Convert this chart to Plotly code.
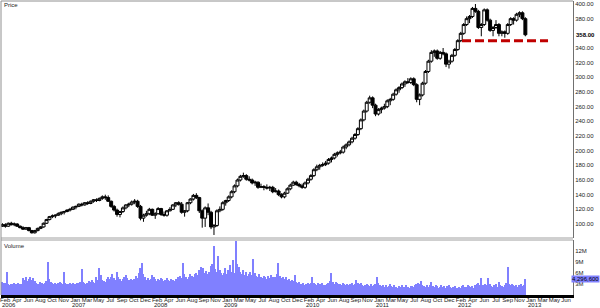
import pandas as pd
import plotly.graph_objects as go

# ---------------- price data (two-week candles) ----------------
opens = [
97,99,97,101,99,100,97,95,93,95,
91,88,91,94,96,101,106,110,111,112,
114,116,117,119,120,123,124,127,126,129,
128,131,133,132,135,137,136,131,124,119,
113,117,122,126,127,130,131,124,108,112,
114,120,112,114,121,113,112,118,120,126,
129,127,116,118,129,134,139,136,118,108,
122,116,96,98,118,120,129,132,137,144,
152,160,165,166,161,160,156,157,150,151,
150,149,150,144,145,140,137,142,148,153,
157,154,152,150,156,161,166,174,178,180,
181,183,188,190,195,197,198,205,208,212,
217,222,230,242,254,266,272,262,250,256,
258,260,268,270,277,283,286,291,294,293,
298,290,270,276,292,308,322,334,336,326,
334,332,318,322,330,338,350,360,372,380,
383,394,390,368,372,392,378,364,368,372,
360,362,360,372,380,378,386,388,380]
highs = [
101,101,102,103,102,101,98,97,96,96,
92,92,95,97,102,107,111,113,113,116,
117,118,120,122,124,125,128,129,130,131,
132,134,135,136,139,140,139,132,126,121,
118,124,127,129,132,134,133,126,114,118,
122,121,116,123,122,117,119,123,127,130,
131,130,119,130,135,141,142,137,120,124,
128,118,100,120,124,131,133,139,146,154,
162,167,170,168,165,162,159,158,155,153,
154,152,152,149,147,142,144,150,155,159,
159,156,155,158,163,168,176,181,182,184,
186,190,192,197,199,201,207,210,214,219,
224,232,244,256,268,275,274,264,258,260,
264,270,272,279,285,288,293,296,299,300,
300,292,278,294,310,324,337,338,338,336,
340,334,324,332,340,352,362,374,383,385,
396,400,392,374,394,394,380,370,378,374,
364,364,374,382,382,388,390,390,382]
lows = [
96,95,96,98,97,96,94,92,92,90,
87,87,90,93,95,100,105,108,108,111,
112,113,116,117,119,120,123,124,125,126,
127,129,130,131,133,133,130,122,117,110,
109,115,120,123,125,127,122,105,103,110,
112,111,107,113,111,110,110,117,119,123,
125,114,110,116,127,132,134,115,95,96,
112,93,85,96,116,118,125,130,135,142,
150,158,163,159,158,154,152,148,149,146,
147,145,142,143,138,135,135,141,146,152,
152,150,148,148,154,159,164,172,174,178,
179,181,184,188,192,195,196,202,206,210,
215,220,228,240,252,264,258,247,248,251,
256,258,262,268,275,279,284,287,291,291,
288,266,262,274,290,306,320,328,324,324,
330,314,312,320,328,336,348,358,370,374,
381,388,366,356,370,376,362,356,366,356,
356,354,358,370,372,376,382,378,356]
closes = [
99,97,101,99,100,97,95,93,95,91,
88,91,94,96,101,106,110,111,112,114,
116,117,119,120,123,124,127,126,129,128,
131,133,132,135,137,136,131,124,119,113,
117,122,126,127,130,131,124,108,112,114,
120,112,114,121,113,112,118,120,126,129,
127,116,118,129,134,139,136,118,108,122,
116,96,98,118,120,129,132,137,144,152,
160,165,166,161,160,156,157,150,151,150,
149,150,144,145,140,137,142,148,153,157,
154,152,150,156,161,166,174,178,180,181,
183,188,190,195,197,198,205,208,212,217,
222,230,242,254,266,272,262,250,256,258,
260,268,270,277,283,286,291,294,293,298,
290,270,276,292,308,322,334,336,326,334,
332,318,322,330,338,350,360,372,380,383,
394,390,368,372,392,378,364,368,372,360,
362,360,372,380,378,386,388,380,358]

# ---------------- volume data (weekly, millions) ----------------
volume_m = [
3.6,3.2,3.4,6.3,3.1,2.8,3.0,2.9,3.2,3.0,
3.1,3.3,3.0,2.9,4.6,4.2,4.8,3.9,4.4,4.9,
4.1,4.7,3.8,3.3,3.0,2.9,3.5,3.2,3.0,3.4,
3.7,9.0,4.3,3.6,3.3,3.1,3.4,3.0,3.2,3.5,
3.3,3.0,6.3,3.4,3.1,2.9,3.2,3.0,3.3,3.1,
3.0,3.4,3.2,3.5,7.0,3.6,3.3,3.1,3.4,3.8,
3.5,4.2,3.6,3.3,4.8,4.1,7.3,5.4,4.2,3.9,
3.6,4.4,5.0,4.3,4.9,5.6,4.7,4.2,6.3,5.0,
4.4,3.9,4.3,4.8,5.4,4.6,4.1,3.8,4.4,4.0,
4.3,5.1,4.6,6.0,7.4,8.8,5.8,4.9,4.2,4.6,
4.0,4.5,5.4,4.8,4.3,3.9,4.4,4.1,4.7,4.3,
3.9,4.2,4.6,4.0,3.7,4.3,4.1,3.8,4.5,4.2,
4.8,5.3,4.6,8.8,5.6,4.9,4.5,5.0,5.8,5.2,
4.9,5.6,6.1,5.4,6.8,7.7,6.2,7.5,5.9,6.6,
5.8,6.4,7.8,8.4,13.3,7.0,6.2,10.6,6.8,5.9,
5.4,6.1,7.3,5.6,6.8,8.2,6.4,9.5,6.0,14.7,
8.4,7.7,6.3,5.8,6.9,5.4,6.2,5.1,5.7,6.4,
5.5,9.8,6.0,5.2,4.8,5.6,5.0,4.6,5.3,4.9,
4.5,5.1,4.7,5.4,4.8,4.4,5.0,5.6,8.8,5.2,
4.6,4.9,4.3,4.8,4.1,4.5,3.9,4.2,3.8,5.4,
3.6,3.2,3.5,2.9,3.1,3.4,2.8,3.0,3.3,2.9,
3.2,4.9,3.4,3.0,2.8,3.3,3.1,2.9,3.2,2.8,
2.6,3.0,3.4,3.9,6.0,3.5,3.1,3.6,3.2,2.9,
3.1,2.8,3.3,2.9,2.7,3.0,2.6,2.9,3.2,2.8,
3.0,4.1,3.3,2.9,3.2,2.7,2.5,2.8,3.1,2.6,
2.4,2.9,2.5,2.7,3.0,4.9,3.2,2.8,2.4,2.6,
2.3,2.7,2.2,2.5,2.9,2.4,2.1,2.6,2.3,2.0,
2.4,2.2,2.6,2.1,2.3,2.7,2.2,2.0,2.4,2.5,
2.1,2.6,2.9,3.2,3.0,3.8,2.7,2.4,2.2,2.6,
2.3,2.8,3.6,2.5,2.2,2.7,2.4,2.0,2.3,2.6,
2.1,2.4,2.0,2.5,2.8,2.2,1.9,2.1,2.4,2.0,
1.8,2.2,2.0,2.4,2.6,2.1,2.3,2.8,2.5,2.2,
2.4,2.0,2.6,2.9,3.3,2.8,4.6,2.7,2.5,3.0,
2.6,4.6,3.1,2.4,2.2,2.7,2.9,2.3,3.6,2.8,
2.5,2.2,2.7,3.4,7.6,3.0,2.6,3.1,2.8,2.4,
2.7,2.3,2.6,2.9,2.4,2.8,4.2966]

price_dates = pd.date_range("2006-02-03", periods=len(closes), freq="14D")
vol_dates = pd.date_range("2006-02-03", periods=len(volume_m), freq="7D")

month_labels = [
"Feb","Apr","Jun","Aug","Oct","Nov",
"Jan","Mar","May","Jul","Sep","Oct","Dec",
"Feb","Apr","Jun","Aug","Sep","Nov",
"Jan","Mar","May","Jul","Aug","Oct","Dec",
"Feb","Apr","Jun","Aug","Sep","Nov",
"Jan","Mar","May","Jul","Aug","Oct","Dec",
"Feb","Apr","Jun","Jul","Sep","Nov",
"Jan","Mar","May","Jun"]
tick_dates = pd.date_range("2006-02-16", "2013-06-12", periods=len(month_labels))
year_labels = ["2006", "2007", "2008", "2009", "2010", "2011", "2012", "2013"]
year_tick_index = [0, 6, 13, 19, 26, 32, 39, 45]

# 360.00 is hidden behind the last-price marker in the reference
price_ticks = [100, 120, 140, 160, 180, 200, 220, 240, 260, 280, 300, 320, 340, 380, 400]
vol_ticks = [3, 6, 9, 12]
vol_tick_labels = ["3M", "6M", "9M", "12M"]

support_level = 350
support_start = "2012-02-02"
support_end = "2013-03-18"
last_price_label = "358.00"
last_volume_label = "4,296,600"

# ---------------- figure ----------------
FONT = "Liberation Sans, Arial, sans-serif"
TXT = "#222222"
VOLC = "#8080ff"

fig = go.Figure()
fig.add_trace(go.Candlestick(
    x=price_dates, open=opens, high=highs, low=lows, close=closes,
    xaxis="x2", yaxis="y",
    increasing=dict(line=dict(color="black", width=1), fillcolor="white"),
    decreasing=dict(line=dict(color="black", width=1), fillcolor="black"),
    whiskerwidth=0, showlegend=False, hoverinfo="skip"))
fig.add_trace(go.Bar(
    x=vol_dates, y=volume_m, xaxis="x", yaxis="y2",
    width=7 * 86400000, marker=dict(color=VOLC, line=dict(width=0)),
    showlegend=False, hoverinfo="skip"))

PLOT_H = 294
p_bot = (295 - 238) / PLOT_H
v_top = (295 - 240) / PLOT_H

fig.update_layout(
    width=600, height=308,
    margin=dict(l=1, r=27, t=1, b=13, autoexpand=False),
    paper_bgcolor="white", plot_bgcolor="white",
    font=dict(family=FONT, size=6, color=TXT),
    bargap=0, boxgap=0, boxgroupgap=0,
    xaxis=dict(domain=[0, 1], anchor="y2", type="date",
               range=["2006-01-27", "2013-07-15"],
               tickmode="array", tickvals=tick_dates, ticktext=month_labels,
               tickangle=0, automargin=False, ticklabeloverflow="allow",
               ticklabelstandoff=-3,
               tickfont=dict(size=6, color=TXT), ticks="",
               showgrid=False, zeroline=False,
               showline=True, linecolor="black", linewidth=3),
    xaxis2=dict(domain=[0, 1], anchor="y", matches="x", type="date",
                showticklabels=False, showgrid=False, zeroline=False,
                rangeslider=dict(visible=False), ticks=""),
    yaxis=dict(domain=[p_bot, 1], range=[80.9, 404.1], side="right",
               tickmode="array", tickvals=price_ticks,
               ticktext=[f"{v:.2f}" for v in price_ticks],
               tickfont=dict(size=6, color=TXT), ticks="", automargin=False,
               showgrid=False, zeroline=False,
               showline=True, linecolor="#707070", linewidth=1),
    yaxis2=dict(domain=[0, v_top], range=[0, 15], side="right",
                tickmode="array", tickvals=vol_ticks, ticktext=vol_tick_labels,
                tickfont=dict(size=6, color=TXT), ticks="", automargin=False,
                showgrid=False, zeroline=False,
                showline=True, linecolor="#707070", linewidth=1),
)

shapes = [
    dict(type="line", xref="x2", yref="y", x0=support_start, x1=support_end,
         y0=support_level, y1=support_level,
         line=dict(color="#c00000", width=3, dash="9px,4px")),
    dict(type="line", xref="paper", yref="paper", x0=0, x1=1, y0=p_bot, y1=p_bot,
         line=dict(color="#a0a0a0", width=1)),
    dict(type="line", xref="paper", yref="paper", x0=0, x1=1, y0=v_top, y1=v_top,
         line=dict(color="#a0a0a0", width=1)),
    dict(type="line", xref="paper", yref="paper", x0=0, x1=1, y0=1, y1=1,
         line=dict(color="#909090", width=1)),
    dict(type="line", xref="paper", yref="paper", x0=0, x1=0, y0=0, y1=1,
         line=dict(color="#909090", width=1)),
]
fig.update_layout(shapes=shapes)

# year labels under the first month of each year (left-aligned with the month text)
for idx, yr in zip(year_tick_index, year_labels):
    fig.add_annotation(text=yr, xref="x", yref="paper", x=tick_dates[idx],
                       y=-(305 - 295) / PLOT_H, xanchor="left", yanchor="middle",
                       xshift=-5, showarrow=False, font=dict(size=6, color=TXT))

fig.add_annotation(text="Price", xref="paper", yref="paper", x=0, y=1,
                   xanchor="left", yanchor="top", xshift=1, yshift=1,
                   showarrow=False, font=dict(size=6, color=TXT))
fig.add_annotation(text="Volume", xref="paper", yref="paper", x=0, y=v_top,
                   xanchor="left", yanchor="top", xshift=1, yshift=-1,
                   showarrow=False, font=dict(size=6, color=TXT))
fig.add_annotation(text="<b>" + last_price_label + "</b>", xref="paper", yref="y",
                   x=1, y=closes[-1], xanchor="left", yanchor="middle", xshift=1,
                   showarrow=False, bgcolor="white", borderpad=1,
                   font=dict(size=6, color="black"))
fig.add_annotation(text=last_volume_label, xref="paper", yref="y2",
                   x=1, y=volume_m[-1], xanchor="right", yanchor="middle", xshift=27,
                   showarrow=False, bgcolor=VOLC, borderpad=0,
                   font=dict(size=6, color="black"))

fig.write_html("out.html")
